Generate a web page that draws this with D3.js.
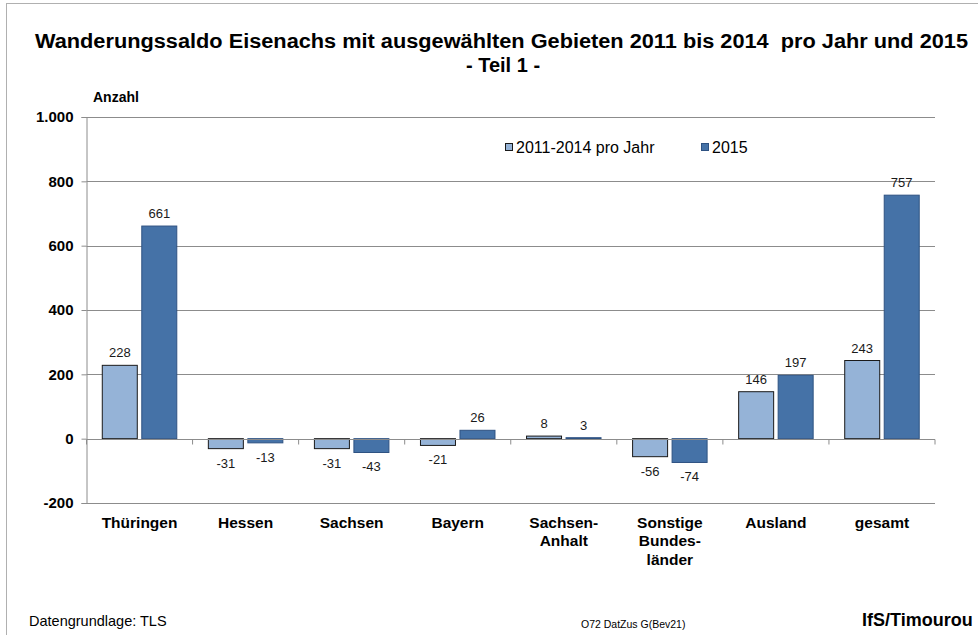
<!DOCTYPE html>
<html>
<head>
<meta charset="utf-8">
<script src="https://cdn.jsdelivr.net/npm/d3@7"></script>
<style>
  body { margin: 0; background: #fff; }
  text { font-family: "Liberation Sans", Arial, sans-serif; }
</style>
</head>
<body>
<div id="chart"></div>
<script>
// data
const categories = [["Thüringen"], ["Hessen"], ["Sachsen"], ["Bayern"], ["Sachsen-", "Anhalt"], ["Sonstige", "Bundes-", "länder"], ["Ausland"], ["gesamt"]];
const seriesNames = ["2011-2014 pro Jahr", "2015"];
const valuesAvg = [228, -31, -31, -21, 8, -56, 146, 243];
const values2015 = [661, -13, -43, 26, 3, -74, 197, 757];
const yTicks = [-200, 0, 200, 400, 600, 800, 1000];

function drawChart() {
  const width = 978;
  const height = 635;
  const colors = ["#95b3d7", "#4572a7"];
  const strokes = ["#1a1a1a", "#2e5282"];

  const svg = d3.select("#chart").append("svg")
    .attr("width", width)
    .attr("height", height);

  // outer frame of the chart area
  svg.append("rect")
    .attr("x", 6.5).attr("y", 3.5)
    .attr("width", width + 10).attr("height", height + 10)
    .attr("fill", "none").attr("stroke", "#b0b0b0");

  // title
  svg.append("text")
    .attr("x", 501.5).attr("y", 48)
    .attr("text-anchor", "middle")
    .attr("textLength", 933).attr("lengthAdjust", "spacingAndGlyphs")
    .style("font-size", "20px").style("font-weight", "bold")
    .style("white-space", "pre")
    .text("Wanderungssaldo Eisenachs mit ausgewählten Gebieten 2011 bis 2014  pro Jahr und 2015");
  svg.append("text")
    .attr("x", 503).attr("y", 72)
    .attr("text-anchor", "middle")
    .style("font-size", "20px").style("font-weight", "bold")
    .text("- Teil 1 -");

  svg.append("text")
    .attr("x", 93).attr("y", 102)
    .style("font-size", "14px").style("font-weight", "bold")
    .text("Anzahl");

  const x0 = 86.5, x1 = 935;
  const x = d3.scaleBand()
    .domain(d3.range(categories.length))
    .range([x0, x1]);

  const y = d3.scaleLinear()
    .domain([-200, 1000])
    .range([503, 117]);

  const de = d3.formatLocale({ decimal: ",", thousands: ".", grouping: [3], currency: ["", " €"], minus: "-" });
  const fmt = de.format(",d");

  // gridlines
  svg.append("g")
    .selectAll("line")
    .data(yTicks.filter((d) => d !== 0))
    .join("line")
    .attr("x1", x0).attr("x2", x1)
    .attr("y1", (d) => Math.round(y(d)) + 0.5)
    .attr("y2", (d) => Math.round(y(d)) + 0.5)
    .attr("stroke", "#8c8c8c");

  // y axis
  const yAxis = svg.append("g")
    .attr("transform", `translate(${x0},0)`)
    .call(d3.axisLeft(y).tickValues(yTicks).tickSize(5).tickFormat(fmt));
  yAxis.select(".domain").attr("stroke", "#8c8c8c");
  yAxis.selectAll(".tick line").attr("stroke", "#8c8c8c");
  yAxis.selectAll(".tick text")
    .attr("x", -13)
    .style("font-size", "15px").style("font-weight", "bold")
    .style("font-family", "Liberation Sans, Arial, sans-serif")
    .attr("fill", "#000");

  // bars
  const bw = x.bandwidth() * 0.33;
  const gap = 4.5;
  const series = [valuesAvg, values2015];
  series.forEach((vals, s) => {
    const g = svg.append("g");
    g.selectAll("rect")
      .data(vals)
      .join("rect")
      .attr("x", (d, i) => x(i) + x.bandwidth() / 2 - bw - gap / 2 + s * (bw + gap))
      .attr("y", (d) => y(Math.max(0, d)))
      .attr("width", bw)
      .attr("height", (d) => Math.abs(y(d) - y(0)))
      .attr("fill", colors[s])
      .attr("stroke", strokes[s])
      .attr("stroke-width", 1);
    g.selectAll("text")
      .data(vals)
      .join("text")
      .attr("x", (d, i) => x(i) + x.bandwidth() / 2 - bw / 2 - gap / 2 + s * (bw + gap))
      .attr("y", (d) => d >= 0 ? y(d) - 8 : y(d) + 19)
      .attr("text-anchor", "middle")
      .style("font-size", "13px")
      .attr("fill", "#1a1a1a")
      .text((d) => fmt(d));
  });

  // zero line with category ticks
  const zy = Math.round(y(0)) + 0.5;
  svg.append("line")
    .attr("x1", x0).attr("x2", x1)
    .attr("y1", zy).attr("y2", zy)
    .attr("stroke", "#8c8c8c");
  svg.append("g")
    .selectAll("line")
    .data(d3.range(categories.length + 1))
    .join("line")
    .attr("x1", (i) => x0 + i * x.step())
    .attr("x2", (i) => x0 + i * x.step())
    .attr("y1", zy).attr("y2", zy + 5)
    .attr("stroke", "#8c8c8c");

  // category labels
  const cat = svg.append("g")
    .selectAll("text")
    .data(categories)
    .join("text")
    .attr("x", (d, i) => x(i) + x.bandwidth() / 2)
    .attr("y", 528)
    .attr("text-anchor", "middle")
    .style("font-size", "15.5px").style("font-weight", "bold");
  cat.selectAll("tspan")
    .data((d) => d)
    .join("tspan")
    .attr("x", function () { return d3.select(this.parentNode).attr("x"); })
    .attr("dy", (d, i) => i === 0 ? 0 : 18.3)
    .text((d) => d);

  // legend
  const legendX = [505, 701];
  seriesNames.forEach((name, s) => {
    svg.append("rect")
      .attr("x", legendX[s] + 0.5).attr("y", 143.5)
      .attr("width", 7).attr("height", 7)
      .attr("fill", colors[s]).attr("stroke", strokes[s]);
    svg.append("text")
      .attr("x", legendX[s] + 11).attr("y", 153)
      .style("font-size", "16px")
      .text(name);
  });

  // footer
  svg.append("text")
    .attr("x", 29).attr("y", 626)
    .style("font-size", "14.5px")
    .text("Datengrundlage: TLS");
  svg.append("text")
    .attr("x", 581).attr("y", 628)
    .style("font-size", "10.5px")
    .text("O72 DatZus G(Bev21)");
  svg.append("text")
    .attr("x", 862).attr("y", 626)
    .style("font-size", "18px").style("font-weight", "bold")
    .text("IfS/Timourou");
}

window.onload = function () {
  drawChart();
};
</script>
</body>
</html>
